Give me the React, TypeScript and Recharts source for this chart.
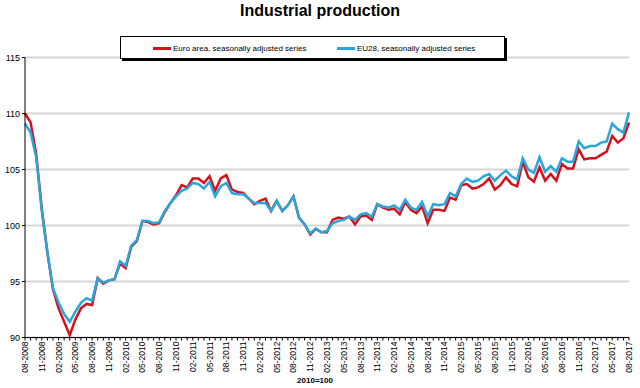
import { CartesianGrid, Line, LineChart, XAxis, YAxis } from "recharts";

// monthly, 08-2008 .. 08-2017
const months = Array.from({ length: 109 }, (_, i) => {
  const m = ((7 + i) % 12) + 1;
  const y = 2008 + Math.floor((7 + i) / 12);
  return `${String(m).padStart(2, "0")}-${y}`;
});

const euroArea = [
  110.0, 109.2, 106.4, 101.5, 97.6, 94.3, 92.6, 91.4, 90.2, 91.6, 92.6, 93.0, 92.9, 95.3, 94.8, 95.1,
  95.2, 96.6, 96.2, 98.1, 98.6, 100.4, 100.3, 100.1, 100.2, 101.2, 102.0, 102.7, 103.6, 103.4, 104.2, 104.2,
  103.8, 104.4, 103.1, 104.2, 104.5, 103.2, 103.0, 102.9, 102.4, 101.9, 102.2, 102.4, 101.3, 102.2, 101.3, 101.8,
  102.6, 100.7, 100.1, 99.2, 99.7, 99.4, 99.4, 100.5, 100.7, 100.6, 100.8, 100.1, 100.8, 100.9, 100.5, 101.9,
  101.6, 101.4, 101.5, 101.0, 102.1, 101.4, 101.1, 101.7, 100.2, 101.4, 101.4, 101.3, 102.5, 102.3, 103.6, 103.7,
  103.3, 103.4, 103.7, 104.2, 103.2, 103.6, 104.3, 103.7, 103.5, 105.7, 104.3, 103.9, 105.2, 104.0, 104.6, 104.0,
  105.5, 105.1, 105.1, 106.8, 105.9, 106.0, 106.0, 106.3, 106.6, 108.0, 107.4, 107.8, 109.2,
];

const eu28 = [
  109.1, 108.3, 106.1, 101.3, 97.6, 94.4, 93.1, 92.1, 91.4, 92.3, 93.1, 93.5, 93.3, 95.3, 94.9, 95.1,
  95.2, 96.8, 96.4, 98.2, 98.7, 100.4, 100.4, 100.2, 100.3, 101.3, 102.0, 102.6, 103.1, 103.3, 103.8, 103.7,
  103.3, 103.9, 102.6, 103.5, 103.8, 102.9, 102.8, 102.8, 102.4, 102.0, 102.0, 102.0, 101.3, 102.2, 101.3, 101.8,
  102.6, 100.7, 100.1, 99.3, 99.7, 99.4, 99.5, 100.2, 100.4, 100.5, 100.8, 100.5, 101.0, 101.1, 100.8, 101.9,
  101.7, 101.6, 101.8, 101.4, 102.3, 101.6, 101.4, 102.1, 100.8, 101.9, 101.8, 101.9, 102.9, 102.6, 103.7, 104.2,
  103.9, 104.0, 104.4, 104.6, 104.0, 104.5, 104.9, 104.4, 104.1, 106.0, 105.0, 104.7, 106.1, 104.8, 105.3, 104.8,
  106.0, 105.7, 105.7, 107.5, 106.9, 107.1, 107.1, 107.4, 107.5, 109.1, 108.6, 108.3, 110.1,
];

const yTicks = [90, 95, 100, 105, 110, 115];

const chartData = months.map((month, i) => ({ month, euro: euroArea[i], eu28: eu28[i] }));

const RED = "#d3121c";
const BLUE = "#29a6dc";
const FONT = '"Liberation Sans", Arial, sans-serif';

function MonthTick(props: any) {
  const { x, y, payload } = props;
  const idx = months.indexOf(payload.value);
  if (idx % 3 !== 0) return null;
  const ty = y - 1;
  return (
    <text
      x={x}
      y={ty}
      transform={`rotate(-90, ${x}, ${ty})`}
      textAnchor="end"
      dy="0.35em"
      fontSize={8.5}
      fontFamily={FONT}
      fill="#000"
    >
      {payload.value}
    </text>
  );
}

function LegendItem({ color, label }: { color: string; label: string }) {
  return (
    <span style={{ display: "inline-flex", alignItems: "center" }}>
      <span style={{ display: "inline-block", width: 18, height: 3, background: color, marginRight: 2 }} />
      <span>{label}</span>
    </span>
  );
}

export default function App() {
  return (
    <div style={{ position: "absolute", left: 0, top: 0, width: 640, height: 388, background: "#fff", fontFamily: FONT }}>
      <div style={{ position: "absolute", top: 2, left: 0, width: 640, textAlign: "center", fontWeight: "bold", fontSize: 16 }}>
        Industrial production
      </div>
      <LineChart width={640} height={388} data={chartData} margin={{ top: 57.5, right: 11, left: 0, bottom: 10.5 }}>
        <CartesianGrid vertical={false} stroke="#d6d6d6" strokeWidth={2} />
        <XAxis
          dataKey="month"
          interval={0}
          tick={<MonthTick />}
          tickSize={3}
          tickLine={{ stroke: "#000" }}
          axisLine={{ stroke: "#000" }}
          height={40}
        />
        <YAxis
          domain={[90, 115]}
          ticks={yTicks}
          width={25}
          tickSize={3}
          tickLine={{ stroke: "#000" }}
          axisLine={{ stroke: "#000" }}
          tick={{ fontSize: 9, fill: "#000", fontFamily: FONT }}
        />
        <Line type="linear" dataKey="euro" stroke={RED} strokeWidth={2.5} dot={false} isAnimationActive={false} />
        <Line type="linear" dataKey="eu28" stroke={BLUE} strokeWidth={2.5} dot={false} isAnimationActive={false} />
      </LineChart>
      <div
        style={{
          position: "absolute",
          left: 120,
          top: 36,
          width: 385,
          height: 23,
          border: "1px solid #000",
          boxShadow: "2px 2px 0 #000",
          background: "#fff",
          display: "flex",
          alignItems: "center",
          fontSize: 8,
          boxSizing: "border-box",
        }}
      >
        <span style={{ position: "absolute", left: 32 }}>
          <LegendItem color={RED} label="Euro area, seasonally adjusted series" />
        </span>
        <span style={{ position: "absolute", left: 216 }}>
          <LegendItem color={BLUE} label="EU28, seasonally adjusted series" />
        </span>
      </div>
      <div style={{ position: "absolute", top: 376, left: 0, width: 640, textAlign: "center", fontWeight: "bold", fontSize: 8 }}>
        <span style={{ position: "relative", left: -5 }}>2010=100</span>
      </div>
    </div>
  );
}
